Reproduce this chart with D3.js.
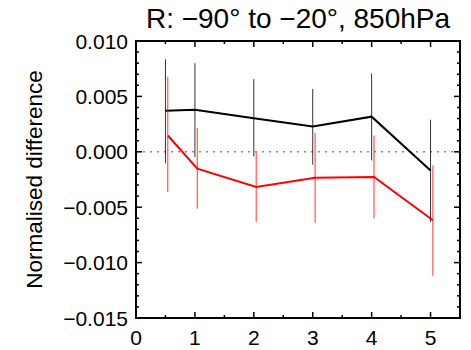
<!DOCTYPE html>
<html lang="en">
<head>
<meta charset="utf-8">
<title>Normalised difference</title>
<script src="https://d3js.org/d3.v7.min.js"></script>
<style>
  body { margin: 0; background: #fff; }
  text { font-family: "Liberation Sans", Arial, sans-serif; fill: #000; }
</style>
</head>
<body>
<script>
// data
const xs = [0.5, 1, 2, 3, 4, 5];
const blackVals = [0.00371, 0.0038, 0.00302, 0.00228, 0.00317, -0.00168];
const blackHi = [0.00836, 0.0080, 0.00656, 0.00567, 0.00707, 0.0029];
const blackLo = [-0.00103, -0.00049, -0.00042, -0.00117, -0.00078, -0.00633];
const redVals = [0.00147, -0.00153, -0.00318, -0.00234, -0.00228, -0.00618];
const redHi = [0.00677, 0.00216, -0.00004, 0.00171, 0.00147, -0.00123];
const redLo = [-0.00363, -0.00513, -0.00633, -0.00639, -0.00603, -0.0112];
const xTicks = [0, 1, 2, 3, 4, 5];
const yTicks = [0.010, 0.005, 0.000, -0.005, -0.010, -0.015];

const width = 471, height = 350;
const m = { left: 136, right: 460, top: 41, bottom: 318 };

const x = d3.scaleLinear().domain([0, 5.5]).range([m.left, m.right]);
const y = d3.scaleLinear().domain([-0.015, 0.010]).range([m.bottom, m.top]);

const svg = d3.select("body").append("svg")
  .attr("width", width).attr("height", height);

// zero line
svg.append("line")
  .attr("x1", m.left).attr("x2", m.right)
  .attr("y1", y(0)).attr("y2", y(0))
  .attr("stroke", "#888").attr("stroke-width", 1.5)
  .attr("stroke-dasharray", "2,5");

// series
function series(vals, hi, lo, color, dx) {
  const pts = xs.map((d, i) => ({ x: d + dx, v: vals[i], hi: hi[i], lo: lo[i] }));
  svg.append("g").selectAll("line")
    .data(pts).enter().append("line")
    .attr("x1", d => x(d.x)).attr("x2", d => x(d.x))
    .attr("y1", d => y(d.hi)).attr("y2", d => y(d.lo))
    .attr("stroke", color).attr("stroke-width", 1).attr("opacity", 0.8);
  svg.append("path")
    .datum(pts)
    .attr("fill", "none").attr("stroke", color).attr("stroke-width", 2)
    .attr("d", d3.line().x(d => x(d.x)).y(d => y(d.v)));
}
series(blackVals, blackHi, blackLo, "#000", 0);
series(redVals, redHi, redLo, "#ff0000", 0.04);

// ticks pointing inward on all four sides
const g = svg.append("g");

function minorTicks(scale, step) {
  const [a, b] = scale.domain();
  return d3.range(Math.ceil(Math.min(a, b) / step - 1e-9) * step, Math.max(a, b) + 1e-9, step);
}
const xMinor = minorTicks(x, 0.5);
const yMinor = minorTicks(y, 0.001);
const isMajor = (v, step) => Math.abs(v / step - Math.round(v / step)) < 1e-6;

xMinor.forEach(v => {
  const len = isMajor(v, 1) ? 6 : 3;
  g.append("line").attr("x1", x(v)).attr("x2", x(v)).attr("y1", m.bottom).attr("y2", m.bottom - len)
    .attr("stroke", "#000").attr("stroke-width", 1.5);
  g.append("line").attr("x1", x(v)).attr("x2", x(v)).attr("y1", m.top).attr("y2", m.top + len)
    .attr("stroke", "#000").attr("stroke-width", 1.5);
});
yMinor.forEach(v => {
  const len = isMajor(v, 0.005) ? 6 : 3;
  g.append("line").attr("x1", m.left).attr("x2", m.left + len).attr("y1", y(v)).attr("y2", y(v))
    .attr("stroke", "#000").attr("stroke-width", 1.5);
  g.append("line").attr("x1", m.right).attr("x2", m.right - len).attr("y1", y(v)).attr("y2", y(v))
    .attr("stroke", "#000").attr("stroke-width", 1.5);
});

svg.append("rect")
  .attr("x", m.left).attr("y", m.top)
  .attr("width", m.right - m.left).attr("height", m.bottom - m.top)
  .attr("fill", "none").attr("stroke", "#000").attr("stroke-width", 2);

// tick labels
svg.append("g").selectAll("text").data(xTicks).enter().append("text")
  .attr("x", d => x(d)).attr("y", 345)
  .attr("text-anchor", "middle").attr("font-size", 21)
  .text(d3.format("d"));

const yFmt = d => d3.format(".3f")(d).replace("-", "\u2212");
svg.append("g").selectAll("text").data(yTicks).enter().append("text")
  .attr("x", 128).attr("y", d => y(d) + 7.5)
  .attr("text-anchor", "end").attr("font-size", 21)
  .text(yFmt);

// title
svg.append("text")
  .attr("x", (m.left + m.right) / 2).attr("y", 28)
  .attr("text-anchor", "middle").attr("font-size", 28)
  .text("R: \u221290\u00b0 to \u221220\u00b0, 850hPa");

// y label
svg.append("text")
  .attr("transform", "translate(42," + ((m.top + m.bottom) / 2) + ") rotate(-90)")
  .attr("text-anchor", "middle").attr("font-size", 22.5)
  .text("Normalised difference");
</script>
</body>
</html>
